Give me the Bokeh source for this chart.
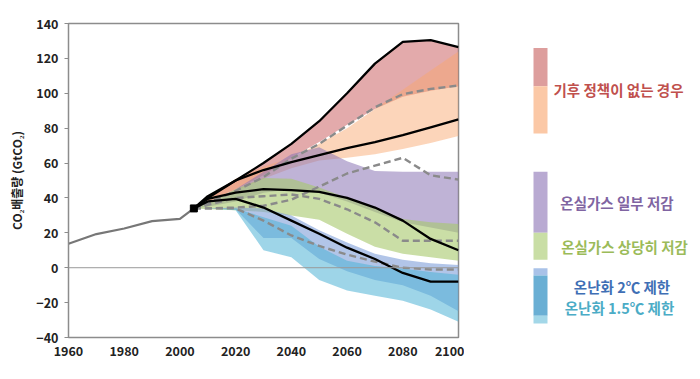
from bokeh.plotting import figure
from bokeh.models import Range1d, Span, SingleIntervalTicker
from bokeh.layouts import row
from bokeh.core.properties import value
from bokeh.embed import file_html
from bokeh.resources import INLINE

FONT = "Noto Sans CJK KR"

# ---------------- data ----------------
hist_years = [1960, 1970, 1980, 1990, 2000, 2005]
hist_co2 = [13.7, 19.3, 22.5, 26.7, 28.0, 34.0]

years = [2005, 2010, 2020, 2030, 2040, 2050, 2060, 2070, 2080, 2090, 2100]

red_low = [34, 38, 45, 53, 63, 72, 82, 91, 98, 101.5, 104]
red_high = [34, 40, 50, 60, 71, 84, 100, 117, 129.5, 130.5, 126.5]
orange_low = [34, 37, 44, 51, 57, 61.5, 63, 65, 68, 71.5, 75.5]
orange_high = [34, 40, 51, 58, 63, 71, 80, 91, 102, 113, 124]
purple_low = [34, 35, 38, 43, 45, 43, 38, 32, 26, 23, 20]
purple_high = [34, 37, 45, 55, 65, 69, 61, 55.5, 55, 55, 55]
green_low = [34, 33.5, 33, 32, 30, 27.5, 19.5, 12, 8, 6, 4]
green_high = [34, 37, 45, 51.5, 51, 46, 40, 34, 28, 26, 25]
two_low = [34, 34, 33.5, 17, 17, 5, -2, -7, -10, -16, -25]
two_high = [34, 34, 34.5, 34, 30, 21.5, 14.5, 8, 4.5, 2.5, 1.5]
onefive_low = [34, 34, 33, 10, 6, -7, -13, -16, -19, -24, -31]
onefive_high = [34, 34, 34, 29, 24, 12, 4, 1, -0.5, -2.5, -4]

line1 = [34, 40, 50, 60, 71, 84, 100, 117, 129.5, 130.5, 126.5]
line2 = [34, 41, 50, 56, 60.5, 64.5, 68.5, 72, 76, 80.5, 85]
line3 = [34, 39.5, 43, 45, 44.5, 43.5, 40, 34.5, 27, 16.5, 10]
line4 = [34, 38, 39.5, 34.5, 27, 19.5, 11.5, 5, -3, -8, -8]

dash1 = [34, 37, 44, 52, 62.5, 71, 81.5, 92, 99.5, 102.5, 104.5]
dash2 = [34, 34, 34.5, 35.5, 39, 46.5, 54, 58.5, 63, 53, 50.5]
dash3 = [34, 36, 40, 41, 42, 39.5, 33.5, 26, 15.5, 15.5, 15.5]
dash4 = [34, 34, 34, 27, 18.5, 12.5, 7.5, 3.5, 0, -1, -1]

# legend (ranges in 2100)
legend_bottom = [104, 77, 20, 4.5, -4.5, -27.5, -32]
legend_top = [126, 104, 55, 20, -0.3, -4.5, -27.5]
legend_colors = ["#dd9e9d", "#fbc8a6", "#b9aad2", "#c9dea5", "#a9c2e8", "#6aafd4", "#a3d7e8"]

legend_labels = ["기후 정책이 없는 경우", "온실가스 일부 저감", "온실가스 상당히 저감",
                 "온난화 2℃ 제한", "온난화 1.5℃ 제한"]
legend_label_y = [102, 37.5, 12.3, -11, -22.8]
legend_label_x = [154, 152.5, 160, 157.5, 155]
legend_label_colors = ["#c0504d", "#8064a2", "#9bbb59", "#3f6fb5", "#4bacc6"]

y_label = "CO₂배출량 (GtCO₂)"

# ---------------- main chart ----------------
yr = Range1d(-40, 140)
p = figure(width=464, height=372, x_range=Range1d(1960, 2100), y_range=yr,
           output_backend="svg", toolbar_location=None,
           min_border_left=68, min_border_right=6, min_border_top=23, min_border_bottom=35)
p.xgrid.visible = False
p.ygrid.visible = False
p.outline_line_color = "#8c8c8c"
p.outline_line_width = 1.5
p.background_fill_color = "white"
p.border_fill_color = "white"

bands = [
    (red_low, red_high, "#cc6466", 0.55),
    (orange_low, orange_high, "#f9a86e", 0.48),
    (purple_low, purple_high, "#8b74b5", 0.55),
    (green_low, green_high, "#a6c86a", 0.6),
    (two_low, two_high, "#7f9fd8", 0.6),
    (onefive_low, onefive_high, "#4fb3d6", 0.55),
]
for lo, hi, col, a in bands:
    p.varea(x=years, y1=lo, y2=hi, fill_color=col, fill_alpha=a)

p.add_layout(Span(location=0, dimension="width", line_color="#999999", line_width=1))

p.line(hist_years, hist_co2, line_color="#777777", line_width=2.2)

for d in (dash1, dash2, dash3, dash4):
    p.line(years, d, line_color="#8a8a8a", line_width=2.4, line_dash="7 4")
for l in (line1, line2, line3, line4):
    p.line(years, l, line_color="black", line_width=2.3)

p.scatter([hist_years[-1]], [hist_co2[-1]], marker="square", size=7, color="black")

for ax in (p.xaxis[0], p.yaxis[0]):
    ax.axis_line_color = "#8c8c8c"
    ax.major_tick_line_color = "#8c8c8c"
    ax.minor_tick_line_color = None
    ax.major_label_text_font = FONT
    ax.major_label_text_font_style = "bold"
    ax.major_label_text_font_size = "12.5px"
    ax.major_label_text_color = "#222222"

p.xaxis.ticker = SingleIntervalTicker(interval=20)
p.yaxis.ticker = SingleIntervalTicker(interval=20)
p.xaxis.major_tick_out = 0
p.xaxis.major_tick_in = 0
p.xaxis.major_label_standoff = 4
p.yaxis.major_tick_out = 4
p.yaxis.major_tick_in = 0
p.yaxis.major_label_standoff = 6
p.yaxis.axis_label = y_label
p.yaxis.axis_label_text_font = FONT
p.yaxis.axis_label_text_font_style = "bold"
p.yaxis.axis_label_text_font_size = "12px"
p.yaxis.axis_label_text_color = "#222222"
p.yaxis.axis_label_standoff = 8

# ---------------- legend panel ----------------
q = figure(width=232, height=372, x_range=Range1d(0, 232), y_range=yr,
           output_backend="svg", toolbar_location=None,
           min_border_left=0, min_border_right=0, min_border_top=23, min_border_bottom=35)
q.axis.visible = False
q.xgrid.visible = False
q.ygrid.visible = False
q.outline_line_color = None

q.quad(left=69, right=83, bottom=legend_bottom, top=legend_top,
       fill_color=legend_colors, line_color=None)
q.text(x=legend_label_x, y=legend_label_y, text=legend_labels,
       text_color=legend_label_colors, text_font=value(FONT), text_font_style="bold",
       text_font_size="14.5px", text_align="center", text_baseline="middle")

layout = row(p, q)
open("out.html", "w").write(file_html(layout, INLINE))
